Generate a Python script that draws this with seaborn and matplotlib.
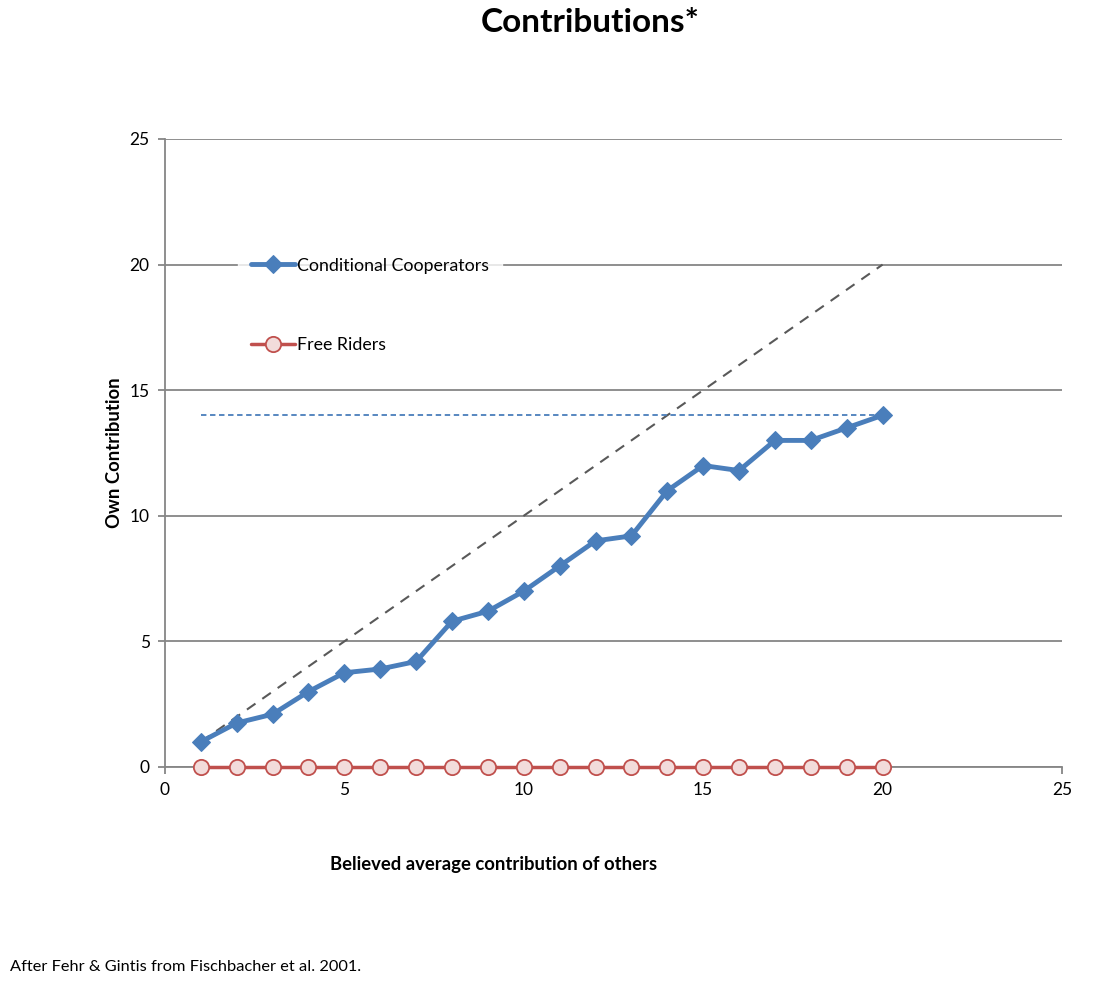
import numpy as np
import pandas as pd
import seaborn as sns
import matplotlib
matplotlib.use("Agg")
import matplotlib.pyplot as plt

# data
believed = list(range(1, 21))
cond_coop = [1.0, 1.75, 2.1, 3.0, 3.75, 3.9, 4.2, 5.8, 6.2, 7.0,
             8.0, 9.0, 9.2, 11.0, 12.0, 11.8, 13.0, 13.0, 13.5, 14.0]
free_riders = [0] * 20
diag_x = [1, 20]
diag_y = [1, 20]
max_line_x = [1, 20]
max_line_y = [14, 14]

sns.set_style("white")
plt.rcParams['font.family'] = ['Lato', 'DejaVu Sans']
plt.rcParams['text.color'] = 'black'
plt.rcParams['axes.labelcolor'] = 'black'
plt.rcParams['xtick.labelcolor'] = 'black'
plt.rcParams['ytick.labelcolor'] = 'black'

df = pd.DataFrame({"x": believed, "cc": cond_coop, "fr": free_riders})

fig = plt.figure(figsize=(11.2, 9.9), dpi=100)
ax = fig.add_axes([0.1473, 0.2253, 0.8009, 0.6343])

blue = "#4a7ebb"
red = "#c0504d"

ax.plot(diag_x, diag_y, color="#595959", lw=1.5, ls=(0, (5, 4)), zorder=2)
ax.plot(max_line_x, max_line_y, color=blue, lw=1.3, ls=(0, (3, 2)), zorder=2)

sns.lineplot(data=df, x="x", y="cc", ax=ax, color=blue, lw=3.5,
             marker="D", markersize=9, markeredgecolor=blue,
             label="Conditional Cooperators", zorder=4)
sns.lineplot(data=df, x="x", y="fr", ax=ax, color=red, lw=2.5,
             marker="o", markersize=11, markerfacecolor="#f2dcdb",
             markeredgecolor=red, markeredgewidth=1.3,
             label="Free Riders", zorder=4, clip_on=False)

ax.set_xlim(0, 25)
ax.set_ylim(0, 25)
ax.set_xticks([0, 5, 10, 15, 20, 25])
ax.set_yticks([0, 5, 10, 15, 20, 25])
ax.yaxis.grid(True, color="#868686", lw=1.3)
ax.xaxis.grid(False)
for s in ["top", "right"]:
    ax.spines[s].set_visible(False)
for s in ["left", "bottom"]:
    ax.spines[s].set_color("#868686")
    ax.spines[s].set_linewidth(1.3)
ax.tick_params(axis="both", length=5, color="#868686", width=1.3,
               labelsize=12.5, pad=6, direction="out", bottom=True, left=True)
ax.set_xlabel("")
ax.set_ylabel("Own Contribution", fontsize=13.3, fontweight="bold", labelpad=5)

leg = ax.legend(loc="upper left", bbox_to_anchor=(0.072, 0.845), frameon=True,
                fontsize=12.8, handlelength=2.5, handletextpad=0.1,
                labelspacing=3.55, borderpad=0.7, fancybox=False)
leg.get_frame().set_facecolor("white")
leg.get_frame().set_edgecolor("white")

fig.text(0.527, 0.977, "Contributions*", ha="center", va="center",
         fontsize=24, fontweight="bold")
fig.text(0.441, 0.127, "Believed average contribution of others", ha="center",
         va="center", fontsize=13.3, fontweight="bold")
fig.text(0.009, 0.023, "After Fehr & Gintis from Fischbacher et al. 2001.",
         ha="left", va="center", fontsize=11.8)

fig.savefig("out.png", dpi=100)
